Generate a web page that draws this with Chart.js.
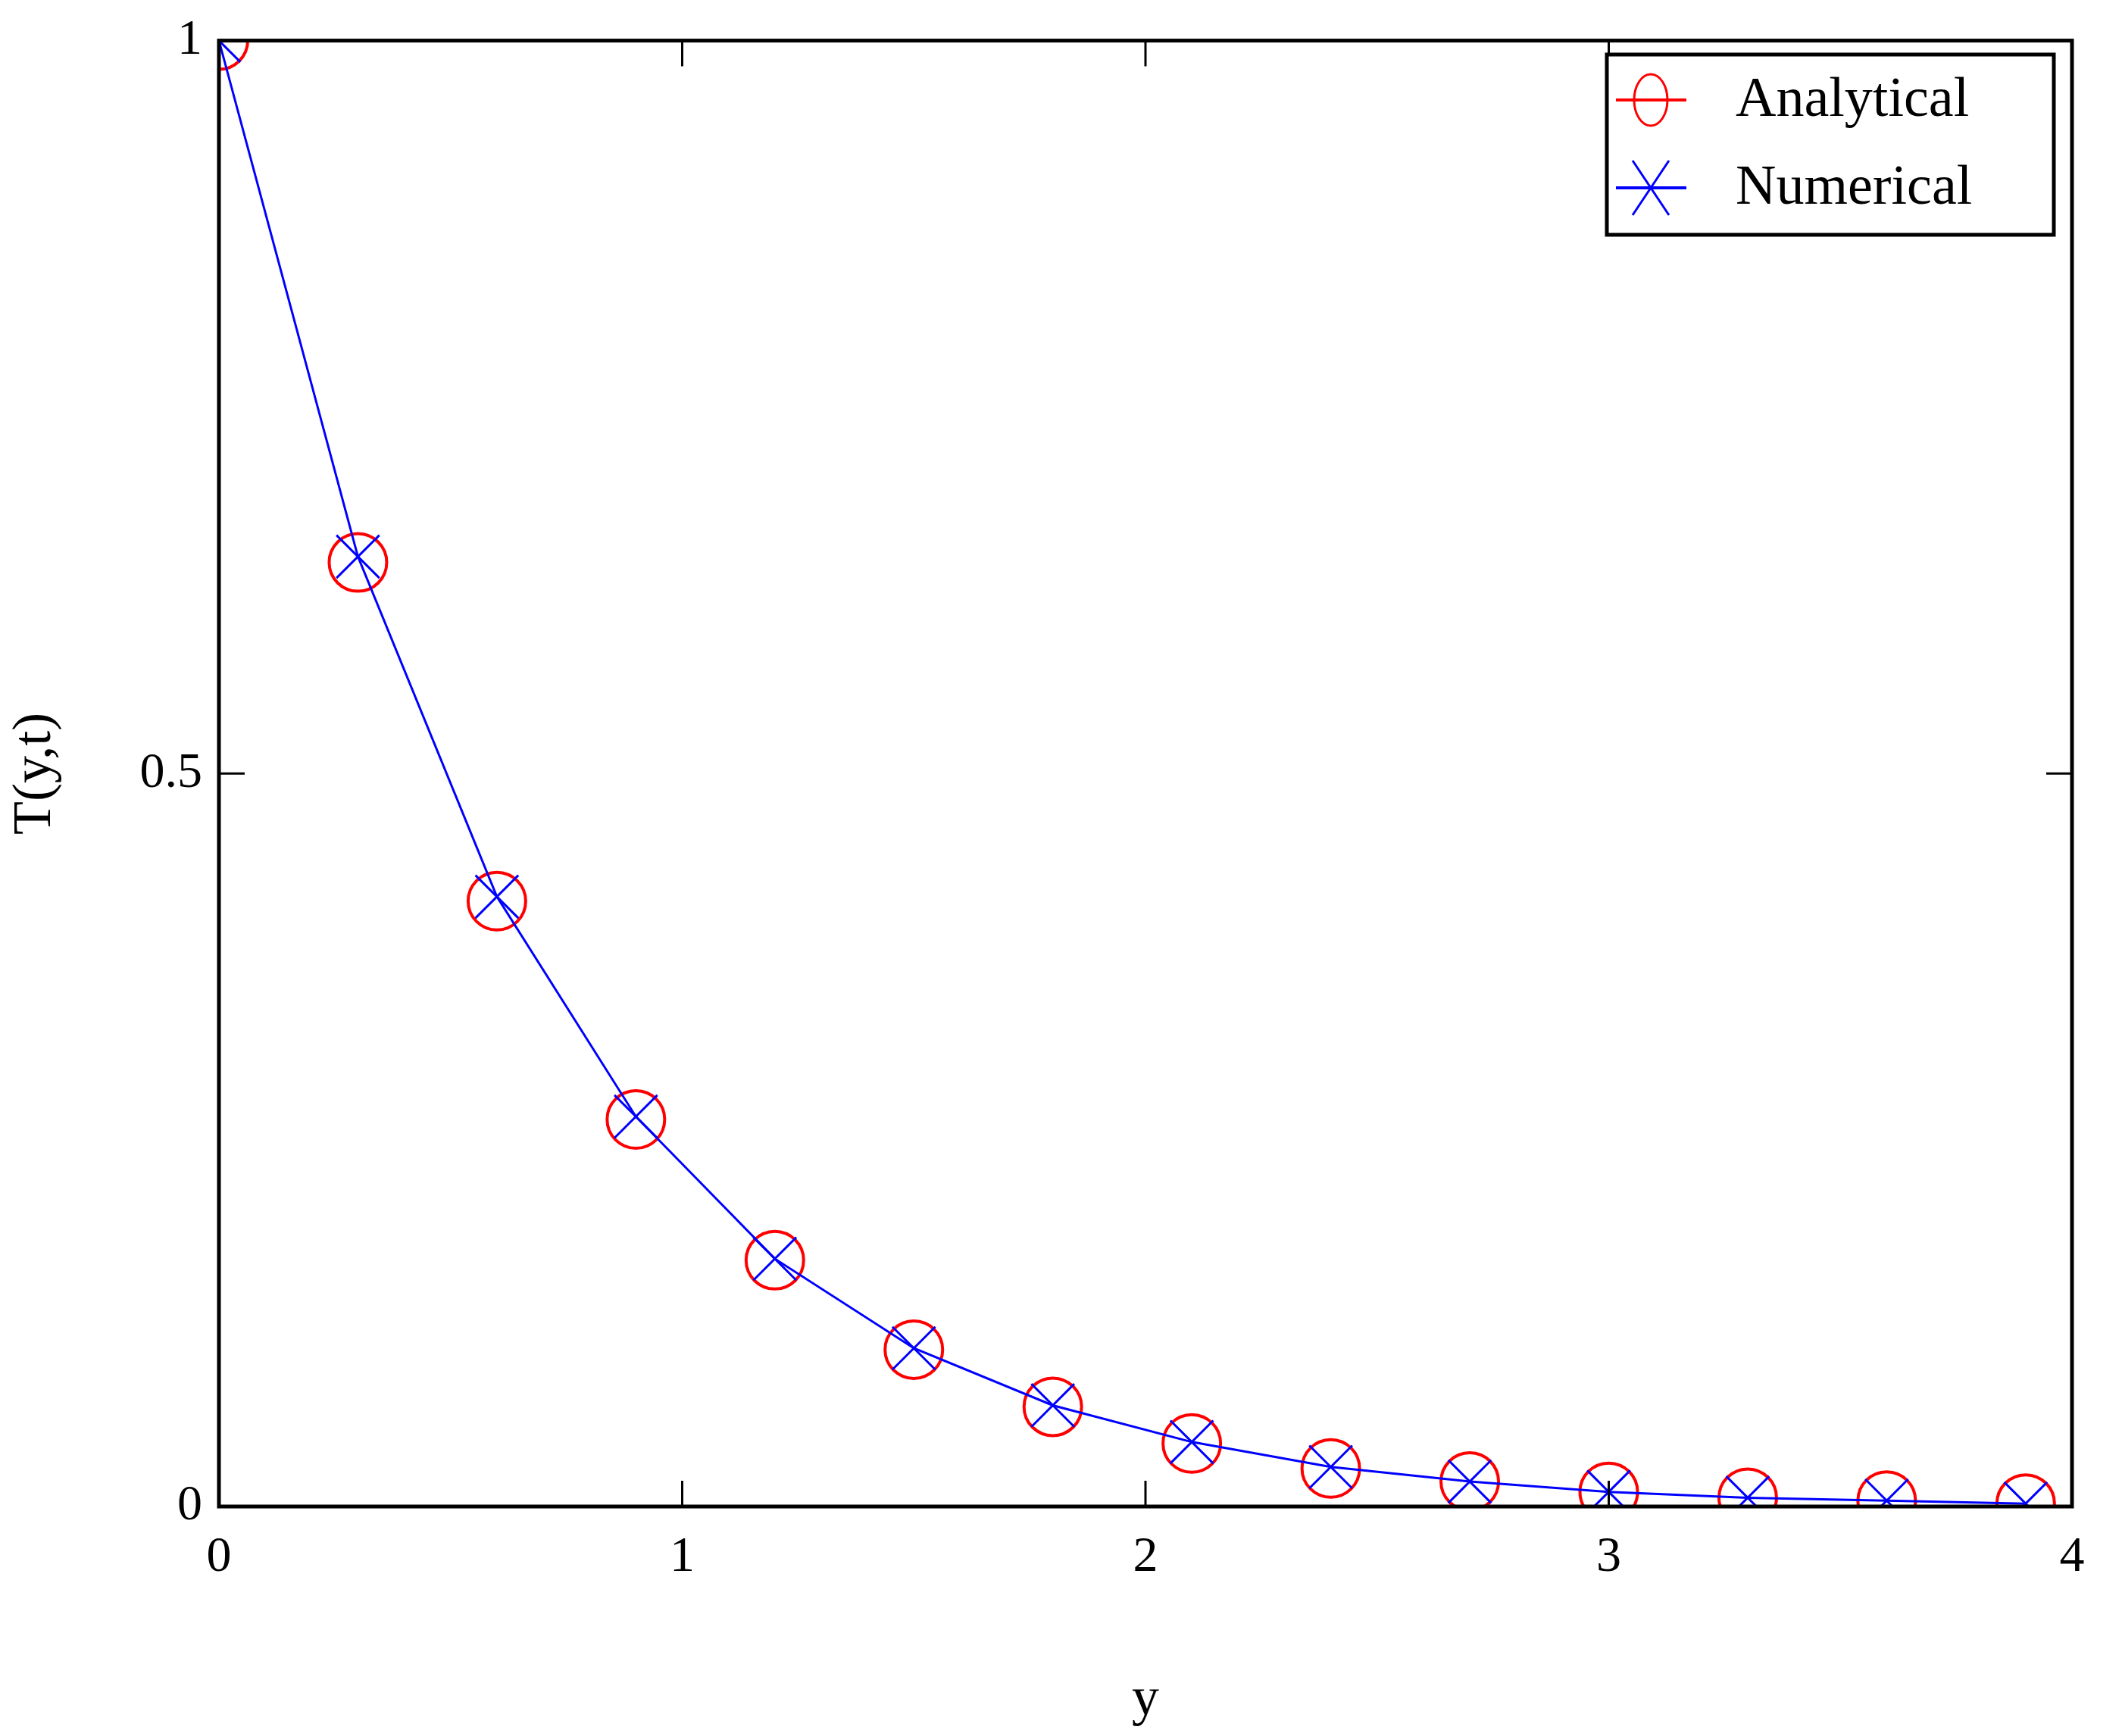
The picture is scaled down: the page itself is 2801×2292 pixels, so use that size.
<!DOCTYPE html>
<html>
<head>
<meta charset="utf-8">
<script src="https://cdn.jsdelivr.net/npm/chart.js@4"></script>
<style>
  html, body { margin: 0; padding: 0; background: #fff; }
  #wrap { width: 2801px; height: 2292px; }
</style>
</head>
<body>
<div id="wrap"><canvas id="chart" width="2801" height="2292"></canvas></div>
<script>
// Data
const yPositions = [0, 0.3, 0.6, 0.9, 1.2, 1.5, 1.8, 2.1, 2.4, 2.7, 3.0, 3.3, 3.6, 3.9];
const analytical = [1.0, 0.644, 0.413, 0.264, 0.168, 0.107, 0.068, 0.043, 0.026, 0.017, 0.010, 0.006, 0.004, 0.002];
const numerical  = [1.0, 0.648, 0.416, 0.266, 0.169, 0.108, 0.069, 0.044, 0.027, 0.017, 0.010, 0.006, 0.004, 0.002];
const xTicks = [0, 1, 2, 3, 4];
const yTicks = [0, 0.5, 1];

const FONT = '"Liberation Serif", "DejaVu Serif", serif';

function toPoints(xs, ys) {
    return xs.map((x, i) => ({ x: x, y: ys[i] }));
}

// frame, inward ticks on all four sides, and the boxed legend
const framePlugin = {
    id: 'frame',
    afterDatasetsDraw(chart) {
        const { ctx, chartArea: a, scales } = chart;
        ctx.save();
        ctx.strokeStyle = '#000';
        ctx.lineWidth = 5;
        ctx.strokeRect(a.left, a.top, a.right - a.left, a.bottom - a.top);
        ctx.lineWidth = 3;
        const len = 34;
        xTicks.forEach(v => {
            const px = scales.x.getPixelForValue(v);
            ctx.beginPath();
            ctx.moveTo(px, a.bottom); ctx.lineTo(px, a.bottom - len);
            ctx.moveTo(px, a.top); ctx.lineTo(px, a.top + len);
            ctx.stroke();
        });
        yTicks.forEach(v => {
            const py = scales.y.getPixelForValue(v);
            ctx.beginPath();
            ctx.moveTo(a.left, py); ctx.lineTo(a.left + len, py);
            ctx.moveTo(a.right, py); ctx.lineTo(a.right - len, py);
            ctx.stroke();
        });

        // legend
        const bx = 2121, by = 72, bw = 590, bh = 238;
        ctx.fillStyle = '#fff';
        ctx.fillRect(bx, by, bw, bh);
        ctx.lineWidth = 5;
        ctx.strokeRect(bx, by, bw, bh);
        const rows = [
            { label: 'Analytical', color: '#ff0000', y: by + 60, mark: 'circle' },
            { label: 'Numerical', color: '#0000ff', y: by + 176, mark: 'cross' }
        ];
        rows.forEach(r => {
            ctx.strokeStyle = r.color;
            ctx.lineWidth = 4;
            ctx.beginPath();
            ctx.moveTo(bx + 12, r.y); ctx.lineTo(bx + 105, r.y);
            ctx.stroke();
            ctx.lineWidth = 3;
            const cx = bx + 58;
            ctx.beginPath();
            if (r.mark === 'circle') {
                ctx.ellipse(cx, r.y, 22, 34, 0, 0, Math.PI * 2);
            } else {
                ctx.moveTo(cx - 24, r.y - 36); ctx.lineTo(cx + 24, r.y + 36);
                ctx.moveTo(cx + 24, r.y - 36); ctx.lineTo(cx - 24, r.y + 36);
            }
            ctx.stroke();
            ctx.fillStyle = '#000';
            ctx.font = '74px ' + FONT;
            ctx.textBaseline = 'middle';
            ctx.textAlign = 'left';
            ctx.fillText(r.label, bx + 170, r.y + 2);
        });
        ctx.restore();
    }
};

new Chart(document.getElementById('chart'), {
    type: 'scatter',
    data: {
        datasets: [
            {
                label: 'Numerical',
                data: toPoints(yPositions, numerical),
                showLine: true,
                borderColor: '#0000ff',
                borderWidth: 3,
                pointStyle: 'crossRot',
                pointRadius: 40,
                pointBorderWidth: 3,
                pointBorderColor: '#0000ff',
                pointBackgroundColor: 'transparent',
                order: 1
            },
            {
                label: 'Analytical',
                data: toPoints(yPositions, analytical),
                showLine: false,
                pointStyle: 'circle',
                pointRadius: 38,
                pointBorderWidth: 4,
                pointBorderColor: '#ff0000',
                pointBackgroundColor: 'transparent',
                order: 2
            }
        ]
    },
    plugins: [framePlugin],
    options: {
        responsive: false,
        animation: false,
        devicePixelRatio: 1,
        layout: { padding: { top: 0, right: 66, left: 0, bottom: 0 } },
        plugins: { legend: { display: false }, tooltip: { enabled: false } },
        scales: {
            x: {
                type: 'linear',
                min: 0, max: 4,
                afterBuildTicks: s => { s.ticks = xTicks.map(v => ({ value: v })); },
                afterFit: s => { s.height = 303; },
                grid: { display: false },
                border: { display: false },
                ticks: { color: '#000', font: { family: FONT, size: 66 }, padding: 20 },
                title: { display: true, text: 'y', color: '#000', font: { family: FONT, size: 72 }, padding: { top: 80 } }
            },
            y: {
                type: 'linear',
                min: 0, max: 1,
                afterBuildTicks: s => { s.ticks = yTicks.map(v => ({ value: v })); },
                afterFit: s => { s.width = 289; },
                grid: { display: false },
                border: { display: false },
                ticks: { color: '#000', font: { family: FONT, size: 66 }, padding: 14, callback: v => String(v) },
                title: { display: true, text: 'T(y,t)', color: '#000', font: { family: FONT, size: 72 }, padding: { bottom: 40 } }
            }
        }
    }
});
</script>
</body>
</html>
